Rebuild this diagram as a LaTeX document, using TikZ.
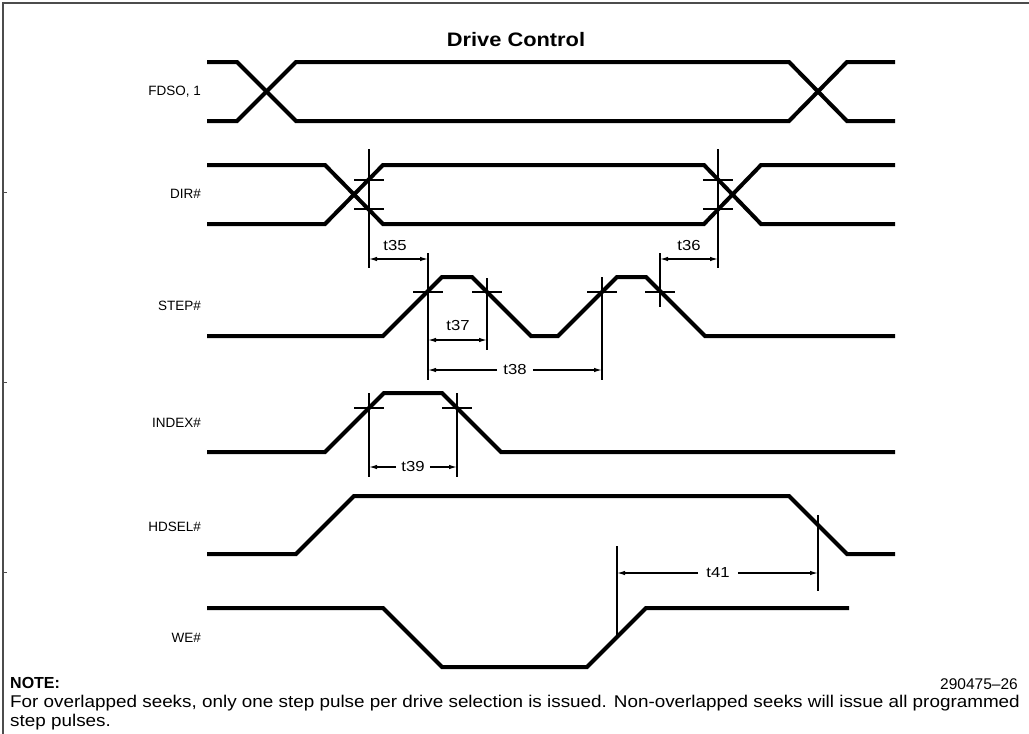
\documentclass[tikz,border=0pt]{standalone}
\usepackage{fontspec}
\setmainfont{Liberation Sans}
\usetikzlibrary{arrows.meta}
\newcommand\myhstretch[2]{\scalebox{#1}[1]{#2}}
\begin{document}
\begin{tikzpicture}[x=1pt,y=-1pt,
  sig/.style={line width=4pt},
  thin/.style={line width=1.2pt},
  dimarrow/.style={line width=1.2pt,-{Latex[length=8pt,width=4.5pt]}},
  dimboth/.style={line width=1.2pt,{Latex[length=8pt,width=4.5pt]}-{Latex[length=8pt,width=4.5pt]}},
  lbl/.style={font=\fontsize{13.5}{15}\selectfont,anchor=east,inner sep=0pt},
  tlbl/.style={font=\fontsize{14.5}{16}\selectfont,inner sep=2pt},
  notetxt/.style={font=\fontsize{17}{19}\selectfont,anchor=west,inner sep=0pt}
]
\useasboundingbox (0,0) rectangle (1029,734);
% frame
\draw[line width=1.5pt,black!70] (3,734) -- (3,3) -- (1029,3);
\foreach \yy in {192,382,572} \draw[line width=1pt,black!70] (3,\yy) -- (7,\yy);

% title
\node[font=\bfseries\fontsize{19.5}{24}\selectfont] (title) at (516,40) {\myhstretch{1.12}{Drive Control}};

% labels
\node[lbl] (lfdso) at (201,92) {FDSO, 1};
\node[lbl] (ldir) at (201,194) {DIR\#};
\node[lbl] (lstep) at (201,306) {STEP\#};
\node[lbl] (lindex) at (201,423) {INDEX\#};
\node[lbl] (lhdsel) at (201,527) {HDSEL\#};
\node[lbl] (lwe) at (201,638) {WE\#};

% FDSO
\draw[sig] (207,62) -- (237,62) -- (296,121) -- (789,121) -- (847,62) -- (895,62);
\draw[sig] (207,121) -- (237,121) -- (296,62) -- (789,62) -- (847,121) -- (895,121);

% DIR#
\draw[sig] (207,165) -- (325,165) -- (383,224) -- (704,224) -- (761,165) -- (895,165);
\draw[sig] (207,224) -- (325,224) -- (383,165) -- (704,165) -- (761,224) -- (895,224);
\draw[thin] (369,149) -- (369,268);
\draw[thin] (354,180) -- (384,180) (354,209) -- (384,209);
\draw[thin] (718,149) -- (718,268);
\draw[thin] (703,180) -- (733,180) (703,209) -- (733,209);

% STEP#
\draw[sig] (207,336) -- (383,336) -- (442,277) -- (472,277) -- (531,336) -- (558,336) -- (617,277) -- (646,277) -- (705,336) -- (895,336);
\draw[thin] (428,253) -- (428,380);
\draw[thin] (413,292) -- (443,292);
\draw[thin] (487,278) -- (487,350);
\draw[thin] (472,292) -- (502,292);
\draw[thin] (602,277) -- (602,380);
\draw[thin] (587,292) -- (617,292);
\draw[thin] (660,253) -- (660,307);
\draw[thin] (645,292) -- (675,292);

% t35 / t36
\coordinate (a35) at (369,259); \coordinate (b35) at (428,259);
\draw[dimboth] (a35) -- (b35);
\node[tlbl] (t35) at (395,246) {\myhstretch{1.15}{t35}};
\coordinate (a36) at (660,259); \coordinate (b36) at (718,259);
\draw[dimboth] (a36) -- (b36);
\node[tlbl] (t36) at (689,246) {\myhstretch{1.15}{t36}};

% t37
\coordinate (a37) at (428,340); \coordinate (b37) at (487,340);
\draw[dimboth] (a37) -- (b37);
\node[tlbl] (t37) at (458,326) {\myhstretch{1.15}{t37}};

% t38
\coordinate (a38) at (428,370); \coordinate (b38) at (602,370);
\node[tlbl,inner sep=6pt] (t38) at (515,370) {\myhstretch{1.15}{t38}};
\draw[dimarrow] (t38.west) -- (a38);
\draw[dimarrow] (t38.east) -- (b38);

% INDEX#
\draw[sig] (207,452) -- (325,452) -- (384,393) -- (442,393) -- (501,452) -- (895,452);
\draw[thin] (369,393) -- (369,477);
\draw[thin] (354,408) -- (384,408);
\draw[thin] (457,393) -- (457,477);
\draw[thin] (442,408) -- (472,408);
\coordinate (a39) at (369,467); \coordinate (b39) at (457,467);
\node[tlbl,inner sep=5pt] (t39) at (413,467) {\myhstretch{1.15}{t39}};
\draw[dimarrow] (t39.west) -- (a39);
\draw[dimarrow] (t39.east) -- (b39);

% HDSEL#
\draw[sig] (207,554) -- (296,554) -- (354,496) -- (789,496) -- (847,554) -- (895,554);
\draw[thin] (818,515) -- (818,591);

% WE#
\draw[sig] (207,608) -- (383,608) -- (442,667) -- (587,667) -- (646,608) -- (849,608);
\draw[thin] (617,546) -- (617,637);

% t41
\coordinate (a41) at (617,573); \coordinate (b41) at (818,573);
\node[tlbl,inner sep=8pt] (t41) at (718,573) {\myhstretch{1.15}{t41}};
\draw[dimarrow] (t41.west) -- (a41);
\draw[dimarrow] (t41.east) -- (b41);

% note
\node[notetxt,font=\bfseries\fontsize{16}{19}\selectfont] (note) at (10,683) {NOTE:};
\node[notetxt] (note1) at (10,703) {\myhstretch{1.11}{For overlapped seeks, only one step pulse per drive selection is issued. Non-overlapped seeks will issue all programmed}};
\node[notetxt] (note2) at (10,722) {\myhstretch{1.11}{step pulses.}};
\node[font=\fontsize{15.5}{18}\selectfont,anchor=east,inner sep=0pt] (fig) at (1018,684) {290475--26};
\end{tikzpicture}
\end{document}
